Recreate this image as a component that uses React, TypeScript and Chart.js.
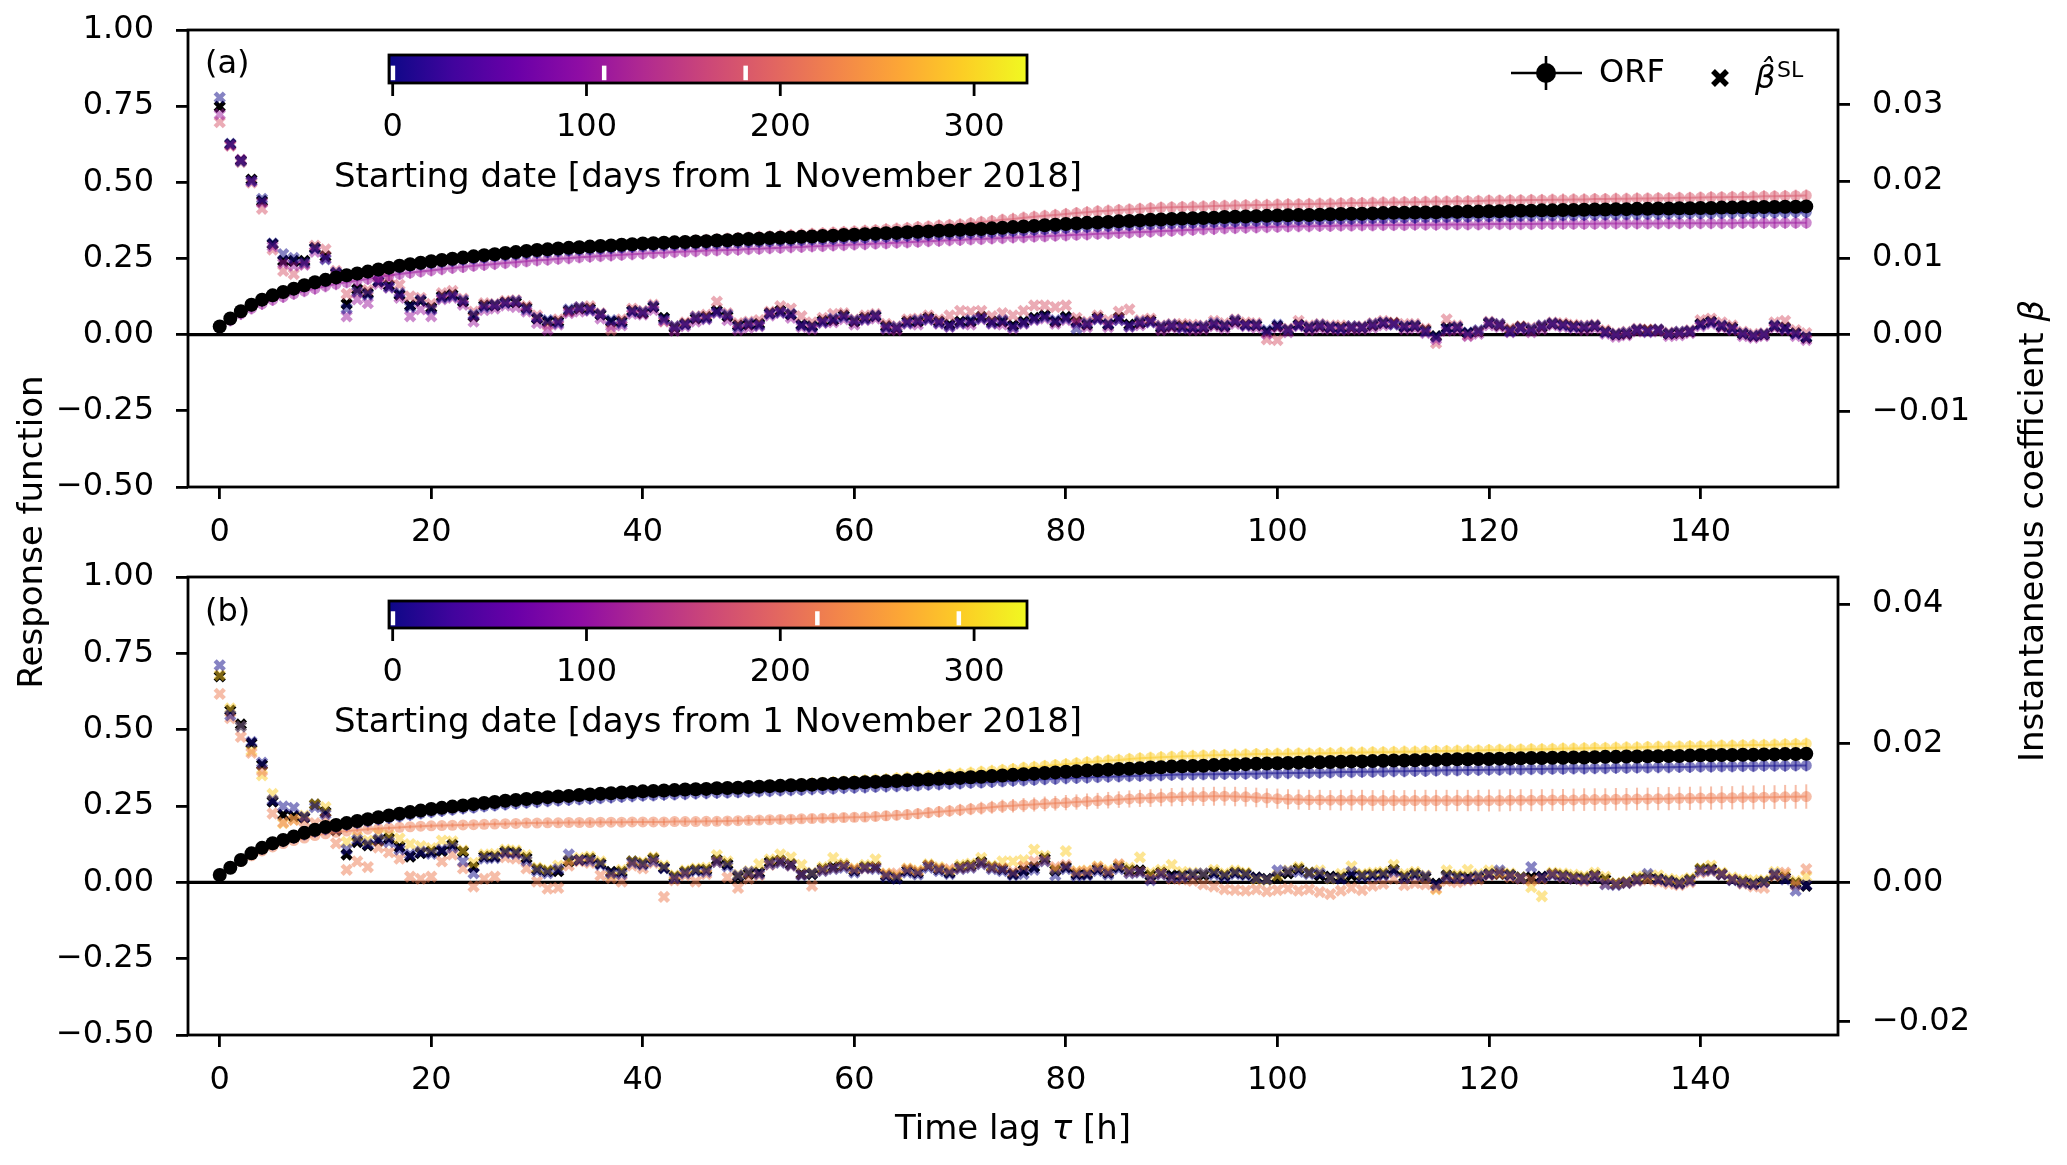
import { useEffect, useRef } from "react"
import { Chart, registerables } from "chart.js"

Chart.register(...registerables)

const W = 2067
const H = 1165
const FONT = "'DejaVu Sans'"
const FS = 32
const FL = 34

// time lag [h]
const lags = [...Array(151).keys()]

// ---------- panel (a): ORF (response function, left axis) ----------
const orfA = [
  .027, .053, .077, .098, .115, .129, .140, .151, .162, .172,
  .180, .188, .195, .201, .207, .214, .220, .226, .231, .236,
  .241, .245, .249, .253, .257, .261, .264, .268, .271, .275,
  .278, .280, .283, .285, .287, .289, .291, .293, .295, .297,
  .299, .300, .302, .303, .304, .306, .307, .309, .310, .312,
  .314, .315, .317, .318, .319, .321, .322, .324, .325, .327,
  .328, .330, .331, .333, .334, .336, .338, .339, .341, .342,
  .344, .346, .347, .349, .351, .353, .355, .357, .359, .361,
  .363, .365, .367, .368, .370, .372, .373, .375, .377, .378,
  .380, .381, .382, .383, .384, .386, .387, .388, .389, .390,
  .391, .392, .393, .393, .394, .395, .396, .397, .397, .398,
  .399, .400, .400, .401, .401, .402, .403, .403, .404, .404,
  .405, .405, .406, .407, .407, .408, .408, .409, .409, .410,
  .411, .411, .412, .412, .413, .413, .414, .414, .415, .415,
  .416, .416, .417, .417, .418, .418, .419, .419, .420, .420,
  .421,
]
const orfA_d0 = [
  .026, .051, .074, .095, .112, .126, .137, .148, .158, .168,
  .176, .184, .191, .197, .203, .209, .215, .220, .225, .230,
  .234, .238, .242, .246, .250, .253, .257, .260, .263, .266,
  .269, .271, .274, .276, .278, .280, .282, .284, .286, .288,
  .290, .291, .293, .294, .295, .297, .298, .299, .301, .302,
  .304, .305, .306, .308, .309, .310, .312, .313, .314, .316,
  .317, .318, .320, .321, .322, .324, .325, .327, .328, .330,
  .331, .333, .335, .336, .338, .340, .342, .344, .346, .348,
  .350, .351, .353, .355, .356, .358, .359, .361, .362, .364,
  .365, .366, .367, .368, .369, .370, .371, .372, .373, .374,
  .375, .376, .377, .377, .378, .379, .380, .380, .381, .382,
  .382, .383, .384, .384, .385, .385, .386, .387, .387, .388,
  .388, .389, .389, .390, .390, .391, .391, .392, .392, .393,
  .393, .394, .394, .395, .395, .396, .396, .397, .397, .398,
  .398, .398, .399, .399, .400, .400, .401, .401, .401, .402,
  .402,
]
const orfA_d109 = [
  .025, .047, .068, .086, .101, .114, .124, .134, .143, .151,
  .159, .166, .172, .178, .183, .189, .194, .199, .203, .207,
  .211, .215, .219, .222, .226, .229, .232, .235, .238, .241,
  .244, .246, .249, .251, .254, .256, .258, .260, .262, .264,
  .266, .268, .269, .271, .273, .274, .276, .277, .278, .279,
  .281, .282, .284, .285, .287, .288, .290, .291, .293, .294,
  .296, .297, .299, .300, .302, .303, .305, .307, .308, .310,
  .311, .313, .314, .316, .317, .319, .320, .322, .323, .325,
  .326, .328, .329, .331, .332, .334, .335, .337, .338, .340,
  .341, .343, .344, .346, .347, .349, .350, .351, .352, .353,
  .354, .355, .356, .356, .357, .357, .358, .358, .359, .359,
  .360, .360, .360, .361, .361, .361, .362, .362, .362, .362,
  .363, .363, .363, .363, .363, .364, .364, .364, .364, .364,
  .364, .365, .365, .365, .365, .365, .365, .366, .366, .366,
  .366, .366, .366, .366, .367, .367, .367, .367, .367, .367,
  .367,
]
const orfA_d182 = [
  .027, .052, .076, .097, .114, .128, .139, .150, .160, .170,
  .178, .186, .193, .199, .205, .211, .217, .223, .228, .233,
  .238, .242, .246, .250, .254, .258, .261, .265, .268, .272,
  .276, .279, .281, .284, .286, .288, .290, .292, .295, .297,
  .299, .301, .303, .305, .307, .309, .311, .313, .315, .317,
  .319, .321, .323, .325, .327, .329, .331, .333, .335, .337,
  .339, .341, .343, .346, .348, .350, .353, .355, .358, .360,
  .362, .366, .370, .373, .377, .380, .384, .387, .390, .393,
  .396, .399, .402, .405, .407, .409, .411, .413, .415, .417,
  .418, .419, .420, .421, .422, .423, .424, .425, .426, .426,
  .427, .428, .428, .429, .430, .430, .431, .432, .432, .433,
  .434, .434, .435, .435, .436, .437, .437, .438, .438, .439,
  .440, .440, .441, .441, .442, .442, .443, .443, .444, .444,
  .445, .445, .446, .446, .447, .447, .448, .448, .449, .449,
  .450, .451, .451, .452, .452, .453, .454, .454, .455, .456,
  .457,
]

// ---------- panel (a): beta SL (instantaneous coefficient, right axis) ----------
const betaA = [
  .0297, .0248, .0227, .0202, .0174, .0118, .0096, .0096, .0096, .0113,
  .0102, .0080, .0040, .0059, .0054, .0069, .0064, .0052, .0038, .0044,
  .0035, .0050, .0052, .0043, .0024, .0038, .0038, .0042, .0042, .0035,
  .0021, .0017, .0017, .0031, .0034, .0034, .0026, .0017, .0017, .0031,
  .0028, .0036, .0022, .0009, .0014, .0021, .0023, .0031, .0024, .0012,
  .0013, .0014, .0028, .0031, .0026, .0013, .0011, .0018, .0019, .0025,
  .0017, .0022, .0024, .0011, .0008, .0017, .0017, .0022, .0017, .0013,
  .0017, .0017, .0023, .0017, .0017, .0012, .0017, .0022, .0025, .0017,
  .0023, .0017, .0013, .0022, .0013, .0022, .0013, .0015, .0018, .0009,
  .0011, .0011, .0009, .0009, .0013, .0011, .0017, .0013, .0012, .0004,
  .0011, .0006, .0013, .0009, .0011, .0009, .0009, .0009, .0009, .0012,
  .0015, .0015, .0010, .0011, .0006, -.0002, .0009, .0009, .0002, .0004,
  .0015, .0012, .0006, .0010, .0006, .0010, .0014, .0013, .0011, .0009,
  .0011, .0004, .0000, .0001, .0006, .0006, .0006, .0001, .0002, .0004,
  .0014, .0017, .0011, .0009, .0001, -.0002, .0000, .0011, .0009, .0002,
  -.0004,
]
const betaA_d0 = [
  .0309, .0249, .0226, .0200, .0177, .0119, .0105, .0100, .0094, .0112,
  .0098, .0081, .0034, .0056, .0052, .0070, .0062, .0054, .0036, .0045,
  .0033, .0048, .0050, .0045, .0026, .0036, .0039, .0041, .0044, .0033,
  .0022, .0019, .0015, .0033, .0036, .0032, .0027, .0019, .0015, .0030,
  .0030, .0037, .0020, .0011, .0013, .0023, .0021, .0029, .0026, .0010,
  .0015, .0012, .0027, .0029, .0027, .0012, .0010, .0016, .0021, .0023,
  .0019, .0020, .0025, .0009, .0010, .0015, .0019, .0020, .0015, .0011,
  .0015, .0019, .0021, .0015, .0019, .0010, .0015, .0020, .0023, .0019,
  .0021, .0008, .0015, .0020, .0014, .0019, .0011, .0017, .0016, .0011,
  .0013, .0009, .0010, .0011, .0015, .0012, .0019, .0012, .0013, .0006,
  .0013, .0007, .0012, .0010, .0013, .0010, .0008, .0011, .0010, .0014,
  .0016, .0013, .0011, .0012, .0004, -.0003, .0008, .0010, .0003, .0006,
  .0016, .0014, .0004, .0009, .0008, .0012, .0015, .0012, .0010, .0011,
  .0012, .0003, .0001, .0003, .0007, .0004, .0007, .0002, .0004, .0005,
  .0013, .0016, .0012, .0008, .0002, -.0001, .0001, .0012, .0008, .0001,
  -.0003,
]
const betaA_d109 = [
  .0287, .0247, .0228, .0200, .0172, .0115, .0093, .0090, .0091, .0108,
  .0099, .0078, .0024, .0046, .0041, .0066, .0061, .0048, .0024, .0033,
  .0024, .0046, .0048, .0039, .0017, .0032, .0034, .0038, .0036, .0030,
  .0015, .0006, .0013, .0028, .0030, .0031, .0021, .0011, .0012, .0027,
  .0026, .0032, .0018, .0005, .0011, .0017, .0020, .0028, .0019, .0006,
  .0009, .0011, .0025, .0028, .0022, .0010, .0007, .0015, .0016, .0020,
  .0013, .0019, .0021, .0007, .0006, .0014, .0013, .0019, .0014, .0010,
  .0014, .0013, .0020, .0014, .0013, .0008, .0014, .0019, .0021, .0014,
  .0019, .0014, .0010, .0020, .0010, .0019, .0010, .0012, .0016, .0006,
  .0009, .0008, .0006, .0007, .0011, .0008, .0014, .0011, .0009, .0001,
  .0009, .0003, .0011, .0006, .0008, .0007, .0006, .0007, .0007, .0009,
  .0012, .0013, .0007, .0008, .0002, -.0006, .0005, .0006, -.0002, .0001,
  .0012, .0010, .0003, .0007, .0003, .0007, .0012, .0010, .0008, .0006,
  .0008, .0001, -.0003, -.0001, .0004, .0003, .0004, -.0002, -.0001, .0002,
  .0011, .0014, .0009, .0006, -.0002, -.0004, -.0002, .0009, .0006, -.0002,
  -.0007,
]
const betaA_d182 = [
  .0277, .0246, .0225, .0198, .0164, .0111, .0083, .0079, .0092, .0116,
  .0111, .0083, .0053, .0055, .0058, .0075, .0074, .0065, .0050, .0048,
  .0040, .0054, .0057, .0047, .0030, .0041, .0040, .0044, .0045, .0037,
  .0025, .0012, .0020, .0030, .0036, .0037, .0028, .0006, .0020, .0034,
  .0031, .0039, .0017, .0011, .0016, .0024, .0026, .0043, .0028, .0015,
  .0017, .0019, .0030, .0037, .0034, .0024, .0016, .0022, .0027, .0028,
  .0020, .0025, .0027, .0014, .0011, .0020, .0021, .0025, .0020, .0025,
  .0031, .0030, .0031, .0024, .0028, .0025, .0031, .0038, .0038, .0036,
  .0038, .0022, .0017, .0025, .0019, .0030, .0033, .0019, .0021, .0012,
  .0014, .0014, .0013, .0012, .0018, .0015, .0020, .0016, .0015, -.0006,
  -.0007, .0008, .0018, .0012, .0014, .0012, .0012, .0011, .0011, .0015,
  .0018, .0016, .0014, .0014, .0008, -.0011, .0020, .0012, -.0001, .0005,
  .0017, .0014, .0008, .0011, .0009, .0012, .0016, .0015, .0013, .0012,
  .0013, .0006, .0002, .0004, .0008, .0007, .0007, .0003, .0004, .0006,
  .0019, .0021, .0016, .0012, .0004, .0001, .0002, .0016, .0018, .0006,
  .0002,
]

// ---------- panel (b): ORF ----------
const orfB = [
  .024, .048, .073, .095, .113, .128, .139, .150, .162, .172,
  .181, .188, .194, .201, .207, .213, .219, .225, .230, .235,
  .240, .244, .248, .252, .256, .260, .263, .267, .270, .273,
  .276, .279, .281, .283, .286, .288, .290, .292, .294, .296,
  .298, .299, .301, .302, .304, .305, .306, .308, .309, .310,
  .312, .313, .315, .316, .318, .319, .320, .322, .323, .325,
  .326, .328, .329, .331, .332, .334, .336, .337, .339, .341,
  .342, .344, .346, .348, .350, .352, .354, .356, .358, .360,
  .362, .364, .366, .367, .369, .371, .372, .374, .376, .377,
  .379, .380, .381, .382, .384, .385, .386, .387, .388, .389,
  .390, .391, .392, .393, .393, .394, .395, .396, .396, .397,
  .398, .399, .399, .400, .401, .401, .402, .403, .403, .404,
  .404, .405, .405, .406, .407, .407, .408, .408, .409, .409,
  .410, .411, .411, .412, .412, .413, .413, .414, .414, .415,
  .416, .416, .417, .417, .418, .418, .419, .419, .420, .420,
  .421,
]
const orfB_d0 = [
  .025, .049, .072, .093, .110, .124, .135, .146, .157, .166,
  .174, .182, .188, .194, .200, .206, .211, .216, .221, .226,
  .230, .234, .238, .242, .245, .249, .252, .255, .258, .261,
  .263, .266, .268, .270, .272, .274, .276, .278, .280, .282,
  .284, .285, .287, .288, .289, .291, .292, .293, .294, .295,
  .297, .298, .299, .301, .302, .303, .305, .306, .307, .309,
  .310, .311, .313, .314, .315, .317, .318, .320, .321, .323,
  .324, .326, .327, .329, .331, .333, .334, .336, .338, .339,
  .341, .342, .343, .345, .346, .347, .348, .349, .350, .351,
  .352, .353, .353, .354, .354, .355, .355, .356, .356, .357,
  .357, .358, .358, .359, .359, .360, .361, .361, .362, .362,
  .363, .364, .364, .365, .365, .366, .367, .367, .368, .368,
  .369, .369, .370, .370, .371, .371, .372, .372, .373, .373,
  .374, .374, .375, .375, .376, .376, .377, .377, .378, .378,
  .379, .379, .380, .380, .381, .381, .382, .382, .382, .383,
  .383,
]
const orfB_d219 = [
  .025, .045, .068, .087, .103, .116, .127, .137, .145, .153,
  .159, .164, .168, .171, .174, .176, .178, .180, .182, .184,
  .185, .186, .187, .188, .189, .190, .191, .192, .193, .194,
  .194, .195, .195, .196, .196, .196, .197, .197, .197, .198,
  .198, .198, .198, .199, .199, .199, .200, .200, .201, .202,
  .203, .204, .205, .206, .207, .208, .209, .210, .211, .212,
  .213, .214, .216, .218, .220, .222, .225, .228, .231, .234,
  .237, .240, .243, .246, .249, .251, .253, .255, .257, .259,
  .261, .263, .265, .267, .269, .271, .273, .275, .276, .278,
  .279, .280, .281, .281, .282, .282, .281, .280, .278, .276,
  .274, .272, .271, .270, .270, .269, .269, .269, .269, .268,
  .268, .268, .268, .268, .268, .268, .268, .268, .268, .268,
  .268, .268, .269, .269, .269, .269, .270, .270, .270, .271,
  .271, .271, .272, .272, .273, .273, .274, .274, .275, .275,
  .276, .276, .277, .277, .278, .278, .279, .279, .280, .280,
  .281,
]
const errB_d219 = [
  .004, .004, .004, .004, .004, .005, .005, .005, .005, .005,
  .005, .005, .006, .006, .006, .006, .006, .006, .006, .007,
  .007, .007, .007, .007, .007, .007, .008, .008, .008, .008,
  .008, .008, .008, .009, .009, .009, .009, .009, .010, .010,
  .010, .010, .011, .011, .011, .011, .011, .012, .012, .012,
  .012, .012, .012, .013, .013, .013, .014, .014, .014, .015,
  .015, .015, .016, .016, .017, .017, .018, .018, .019, .019,
  .020, .020, .021, .021, .022, .022, .023, .023, .024, .024,
  .025, .025, .026, .026, .027, .027, .028, .028, .029, .029,
  .030, .030, .030, .031, .031, .031, .032, .032, .032, .032,
  .033, .033, .033, .033, .033, .033, .034, .034, .034, .034,
  .034, .034, .034, .035, .035, .035, .035, .035, .035, .035,
  .036, .036, .036, .036, .036, .036, .036, .036, .037, .037,
  .037, .037, .037, .037, .037, .037, .038, .038, .038, .038,
  .038, .038, .038, .038, .039, .039, .039, .039, .039, .039,
  .040,
]
const orfB_d292 = [
  .024, .048, .072, .094, .112, .126, .138, .149, .160, .170,
  .179, .186, .193, .200, .206, .212, .218, .224, .229, .234,
  .239, .243, .247, .251, .255, .259, .262, .266, .269, .272,
  .275, .278, .280, .282, .285, .287, .289, .291, .293, .295,
  .297, .298, .300, .302, .303, .305, .307, .308, .310, .312,
  .313, .315, .317, .319, .320, .322, .324, .326, .328, .330,
  .332, .334, .336, .338, .341, .343, .345, .348, .350, .353,
  .356, .359, .362, .365, .368, .371, .375, .378, .381, .384,
  .387, .390, .393, .396, .399, .401, .404, .406, .408, .410,
  .411, .413, .414, .415, .416, .417, .418, .419, .420, .420,
  .421, .421, .422, .422, .423, .423, .424, .425, .425, .426,
  .426, .427, .428, .428, .429, .430, .430, .431, .432, .432,
  .433, .434, .434, .435, .436, .436, .437, .438, .438, .439,
  .440, .440, .441, .442, .442, .443, .444, .444, .445, .446,
  .446, .447, .448, .448, .449, .450, .450, .451, .452, .453,
  .454,
]

// ---------- panel (b): beta SL ----------
const betaB = [
  .0296, .0247, .0227, .0200, .0169, .0116, .0097, .0095, .0093, .0112,
  .0101, .0075, .0040, .0058, .0053, .0060, .0063, .0051, .0037, .0042,
  .0044, .0045, .0054, .0044, .0022, .0037, .0037, .0044, .0043, .0035,
  .0019, .0016, .0016, .0030, .0032, .0034, .0027, .0015, .0015, .0030,
  .0027, .0034, .0021, .0008, .0015, .0018, .0018, .0032, .0026, .0008,
  .0012, .0014, .0029, .0031, .0026, .0012, .0012, .0019, .0022, .0024,
  .0017, .0022, .0022, .0010, .0007, .0017, .0014, .0024, .0019, .0014,
  .0022, .0024, .0029, .0022, .0019, .0012, .0017, .0022, .0034, .0017,
  .0022, .0012, .0012, .0019, .0014, .0022, .0017, .0017, .0010, .0014,
  .0010, .0010, .0010, .0010, .0014, .0010, .0014, .0012, .0007, .0005,
  .0007, .0013, .0019, .0014, .0010, .0008, .0007, .0010, .0010, .0011,
  .0012, .0018, .0008, .0012, .0007, -.0002, .0010, .0008, .0007, .0007,
  .0012, .0012, .0011, .0007, .0007, .0008, .0012, .0010, .0007, .0006,
  .0010, .0004, -.0002, .0000, .0005, .0006, .0005, .0002, -.0001, .0004,
  .0019, .0019, .0012, .0004, .0001, -.0002, .0001, .0010, .0007, -.0001,
  -.0005,
]
const betaB_d0 = [
  .0312, .0240, .0224, .0202, .0172, .0118, .0109, .0107, .0094, .0108,
  .0098, .0077, .0047, .0061, .0055, .0062, .0058, .0047, .0040, .0044,
  .0041, .0047, .0050, .0030, .0013, .0034, .0035, .0042, .0041, .0031,
  .0016, .0013, .0019, .0040, .0032, .0031, .0025, .0013, .0012, .0028,
  .0025, .0030, .0020, .0006, .0013, .0016, .0015, .0029, .0023, .0010,
  .0015, .0012, .0026, .0028, .0024, .0010, .0013, .0016, .0019, .0021,
  .0014, .0020, .0019, .0008, .0005, .0014, .0011, .0021, .0016, .0012,
  .0019, .0021, .0026, .0019, .0016, .0010, .0012, .0018, .0030, .0010,
  .0019, .0009, .0010, .0016, .0011, .0019, .0013, .0014, .0003, .0011,
  .0007, .0008, .0012, .0013, .0011, .0008, .0012, .0010, .0006, .0004,
  .0017, .0016, .0015, .0012, .0013, .0006, .0005, .0015, .0008, .0009,
  .0010, .0015, .0006, .0010, .0009, -.0004, .0008, .0006, .0005, .0009,
  .0011, .0017, .0010, .0006, .0022, .0007, .0010, .0008, .0005, .0004,
  .0008, -.0003, -.0004, -.0001, .0003, .0012, .0004, .0001, -.0002, .0002,
  .0016, .0017, .0011, .0003, -.0001, -.0003, .0000, .0012, .0004, -.0012,
  -.0004,
]
const betaB_d219 = [
  .0271, .0236, .0209, .0186, .0160, .0099, .0086, .0090, .0087, .0085,
  .0092, .0056, .0018, .0030, .0022, .0050, .0043, .0034, .0008, .0005,
  .0008, .0030, .0040, .0020, -.0006, .0005, .0008, .0036, .0034, .0020,
  .0001, -.0009, -.0008, .0024, .0030, .0028, .0010, .0006, .0001, .0024,
  .0020, .0028, -.0021, .0003, .0010, .0001, .0012, .0029, .0007, -.0008,
  .0005, .0010, .0025, .0029, .0024, .0011, -.0005, .0017, .0020, .0023,
  .0019, .0020, .0021, .0012, .0013, .0019, .0016, .0024, .0020, .0019,
  .0020, .0022, .0027, .0021, .0020, .0015, .0023, .0030, .0031, .0022,
  .0025, .0015, .0016, .0022, .0016, .0026, .0014, .0015, .0005, .0012,
  .0005, .0004, .0002, -.0003, -.0006, -.0010, -.0011, -.0012, -.0010, -.0013,
  -.0011, -.0009, -.0012, -.0010, -.0014, -.0017, -.0012, -.0008, -.0011, -.0005,
  -.0002, .0005, -.0004, -.0001, -.0003, -.0009, .0002, .0000, .0003, .0004,
  .0010, .0012, .0007, .0005, .0003, .0005, .0011, .0007, .0005, .0002,
  .0008, -.0002, -.0003, -.0001, .0002, .0004, .0001, -.0002, -.0004, .0000,
  .0014, .0016, .0011, .0004, -.0002, -.0006, -.0008, .0009, .0014, -.0004,
  .0019,
]
const betaB_d292 = [
  .0298, .0250, .0224, .0189, .0154, .0127, .0085, .0090, .0096, .0112,
  .0108, .0079, .0058, .0065, .0060, .0070, .0068, .0063, .0055, .0052,
  .0049, .0060, .0059, .0046, .0028, .0040, .0041, .0047, .0046, .0039,
  .0021, .0018, .0024, .0032, .0035, .0037, .0030, .0010, .0018, .0030,
  .0029, .0036, .0024, .0010, .0017, .0020, .0021, .0039, .0030, .0011,
  .0016, .0026, .0033, .0040, .0036, .0025, .0014, .0022, .0035, .0027,
  .0020, .0025, .0033, .0013, .0010, .0020, .0017, .0026, .0022, .0017,
  .0025, .0027, .0035, .0024, .0030, .0030, .0032, .0047, .0038, .0019,
  .0045, .0016, .0017, .0023, .0018, .0025, .0021, .0036, .0014, .0018,
  .0025, .0015, .0014, .0013, .0018, .0013, .0017, .0014, .0004, .0003,
  .0010, .0017, .0022, .0014, .0017, .0005, .0012, .0023, .0012, .0014,
  .0015, .0025, .0012, .0015, .0010, -.0010, .0017, .0011, .0018, .0012,
  .0017, .0015, .0013, .0007, -.0007, -.0020, .0014, .0013, .0011, .0009,
  .0014, .0008, -.0001, .0001, .0008, .0010, .0010, .0005, .0003, .0006,
  .0020, .0024, .0014, .0007, .0004, .0003, .0003, .0015, .0011, .0002,
  .0008,
]

// rough error half-widths of the ORF estimates
const errBlack = 0.006
const errColoured = 0.02

// starting dates [days from 1 November 2018] and their plasma colours
const datesA = [0, 109, 182]
const datesB = [0, 219, 292]
const coloursA = ["#0e0888", "#9c189d", "#d8586b"]
const coloursB = ["#0e0888", "#ed7b52", "#fccb26"]

const PLASMA = ["#0d0887", "#41049d", "#6a00a8", "#8f0da4", "#b12a90", "#cc4778",
  "#e16462", "#f2844b", "#fca636", "#fcce25", "#f0f921"]
const CBAR_MIN = -1.9
const CBAR_MAX = 327.3
const cbarTicks = [0, 100, 200, 300]

const rgba = (hex: string, a: number) => {
  const n = parseInt(hex.slice(1), 16)
  return `rgba(${(n >> 16) & 255},${(n >> 8) & 255},${n & 255},${a})`
}

const fmt2 = (v: any) => {
  const n = Number(v)
  if (Math.abs(n) < 1e-9) return "0.00"
  return n.toFixed(2).replace("-", "\u2212")
}

const pts = (ys: number[]) => ys.map((y, i) => ({ x: lags[i], y }))

// draws vertical error bars under each ORF dataset
const errorBars = {
  id: "errorBars",
  beforeDatasetDraw(chart: any, args: any) {
    const ds = chart.data.datasets[args.index]
    if (ds.errors === undefined) return
    const ys = chart.scales[args.meta.yAxisID]
    const ctx = chart.ctx
    ctx.save()
    ctx.strokeStyle = ds.errorColor
    ctx.lineWidth = 2
    args.meta.data.forEach((p: any, i: number) => {
      const v = ds.data[i].y
      const e = Array.isArray(ds.errors) ? ds.errors[i] : ds.errors
      ctx.beginPath()
      ctx.moveTo(p.x, ys.getPixelForValue(v - e))
      ctx.lineTo(p.x, ys.getPixelForValue(v + e))
      ctx.stroke()
    })
    ctx.restore()
  },
}

// zero line + frame
const frame = {
  id: "frame",
  beforeDatasetsDraw(chart: any) {
    const { ctx, chartArea: a } = chart
    const y0 = chart.scales.y.getPixelForValue(0)
    ctx.save()
    ctx.strokeStyle = "#000"
    ctx.lineWidth = 3.4
    ctx.beginPath()
    ctx.moveTo(a.left, y0)
    ctx.lineTo(a.right, y0)
    ctx.stroke()
    ctx.restore()
  },
  afterDraw(chart: any) {
    const { ctx, chartArea: a } = chart
    ctx.save()
    ctx.strokeStyle = "#000"
    ctx.lineWidth = 2.8
    ctx.strokeRect(a.left, a.top, a.right - a.left, a.bottom - a.top)
    ctx.restore()
  },
}

function drawColorbar(ctx: any, marks: number[], x0: number, x1: number, y0: number, y1: number) {
  const g = ctx.createLinearGradient(x0, 0, x1, 0)
  PLASMA.forEach((c, i) => g.addColorStop(i / (PLASMA.length - 1), c))
  ctx.fillStyle = g
  ctx.fillRect(x0, y0, x1 - x0, y1 - y0)
  const px = (v: number) => x0 + ((v - CBAR_MIN) / (CBAR_MAX - CBAR_MIN)) * (x1 - x0)
  ctx.fillStyle = "#fff"
  marks.forEach((m) => ctx.fillRect(px(m) - 2, y0 + (y1 - y0) * 0.38, 4.5, (y1 - y0) * 0.52))
  ctx.strokeStyle = "#000"
  ctx.lineWidth = 2.8
  ctx.strokeRect(x0, y0, x1 - x0, y1 - y0)
  ctx.fillStyle = "#000"
  ctx.font = `${FS}px ${FONT}`
  ctx.textAlign = "center"
  ctx.textBaseline = "middle"
  cbarTicks.forEach((t) => {
    ctx.beginPath()
    ctx.moveTo(px(t), y1)
    ctx.lineTo(px(t), y1 + 13)
    ctx.stroke()
    ctx.fillText(String(t), px(t), y1 + 45)
  })
  ctx.font = `${FL}px ${FONT}`
  ctx.fillText("Starting date [days from 1 November 2018]", (x0 + x1) / 2, y1 + 95)
}

// draws text runs of mixed style centred on (0,0) of the current transform
function drawRuns(ctx: any, runs: [string, string][], y: number) {
  const widths = runs.map(([t, f]) => {
    ctx.font = f
    return ctx.measureText(t).width
  })
  let x = -widths.reduce((s, w) => s + w, 0) / 2
  ctx.textAlign = "left"
  runs.forEach(([t, f], i) => {
    ctx.font = f
    ctx.fillText(t, x, y)
    x += widths[i]
  })
}

const decoA = {
  id: "decoA",
  afterDraw(chart: any) {
    const ctx = chart.ctx
    ctx.save()
    ctx.fillStyle = "#000"
    ctx.font = `${FS}px ${FONT}`
    ctx.textBaseline = "middle"
    ctx.textAlign = "left"
    ctx.fillText("(a)", 205, 65)
    drawColorbar(ctx, datesA, 389, 1027, 55, 83)

    // legend
    ctx.strokeStyle = "#000"
    ctx.fillStyle = "#000"
    ctx.lineWidth = 2.6
    ctx.beginPath()
    ctx.moveTo(1511, 73)
    ctx.lineTo(1582, 73)
    ctx.moveTo(1546, 56)
    ctx.lineTo(1546, 90)
    ctx.stroke()
    ctx.beginPath()
    ctx.arc(1546, 73, 10, 0, Math.PI * 2)
    ctx.fill()
    ctx.font = `${FS}px ${FONT}`
    ctx.textBaseline = "middle"
    ctx.textAlign = "left"
    ctx.fillText("ORF", 1599, 74)
    ctx.lineWidth = 5.5
    ctx.beginPath()
    ctx.moveTo(1713, 71)
    ctx.lineTo(1727, 85)
    ctx.moveTo(1727, 71)
    ctx.lineTo(1713, 85)
    ctx.stroke()
    ctx.textBaseline = "alphabetic"
    ctx.font = `italic ${FS}px ${FONT}`
    ctx.fillText("\u03b2\u0302", 1755, 88)
    ctx.font = `22px ${FONT}`
    ctx.fillText("SL", 1777, 77)
    ctx.restore()
  },
}

const decoB = {
  id: "decoB",
  afterDraw(chart: any) {
    const ctx = chart.ctx
    ctx.save()
    ctx.fillStyle = "#000"
    ctx.font = `${FS}px ${FONT}`
    ctx.textBaseline = "middle"
    ctx.textAlign = "left"
    ctx.fillText("(b)", 205, 613)
    drawColorbar(ctx, datesB, 389, 1027, 601, 628)

    const normal = `${FL}px ${FONT}`
    const italic = `italic ${FL}px ${FONT}`
    // x label
    ctx.save()
    ctx.translate(1013, 1130)
    drawRuns(ctx, [["Time lag ", normal], ["\u03c4", italic], [" [h]", normal]], 0)
    ctx.restore()
    // left label (shared)
    ctx.save()
    ctx.translate(33, 532)
    ctx.rotate(-Math.PI / 2)
    drawRuns(ctx, [["Response function", normal]], 0)
    ctx.restore()
    // right label (shared)
    ctx.save()
    ctx.translate(2034, 531)
    ctx.rotate(-Math.PI / 2)
    drawRuns(ctx, [["Instantaneous coefficient ", normal], ["\u03b2", italic]], 0)
    ctx.restore()
    ctx.restore()
  },
}

type PanelSpec = {
  top: number
  bottom: number
  orf: number[]
  orfColoured: number[][]
  orfErrors: (number | number[])[]
  beta: number[]
  betaColoured: number[][]
  colours: string[]
  rMin: number
  rMax: number
  rStep: number
  deco: any
}

const LEFT = 188
const RIGHT = 1838

function makeConfig(p: PanelSpec): any {
  const tickGrid = {
    drawOnChartArea: false,
    drawTicks: true,
    tickLength: 12,
    tickWidth: 2.8,
    lineWidth: 2.8,
    tickColor: "#000",
    color: "#000",
  }
  const noPad = (s: any) => {
    s.paddingTop = 0
    s.paddingBottom = 0
  }
  const datasets: any[] = []
  datasets.push({
    data: pts(p.orf),
    yAxisID: "y",
    borderColor: "#000",
    borderWidth: 2,
    pointRadius: 7,
    pointBorderWidth: 0,
    pointBackgroundColor: "#000",
    errors: errBlack,
    errorColor: "#000",
    order: 0,
  })
  p.orfColoured.forEach((ys, i) => {
    datasets.push({
      data: pts(ys),
      yAxisID: "y",
      borderColor: rgba(p.colours[i], 0.5),
      borderWidth: 2,
      pointRadius: 5.5,
      pointBorderWidth: 0,
      pointBackgroundColor: rgba(p.colours[i], 0.5),
      errors: p.orfErrors[i],
      errorColor: rgba(p.colours[i], 0.5),
      order: 1 + i,
    })
  })
  p.betaColoured.forEach((ys, i) => {
    datasets.push({
      data: pts(ys),
      yAxisID: "y1",
      showLine: false,
      pointStyle: "crossRot",
      pointRadius: 6.5,
      pointBorderWidth: 4.4,
      pointBorderColor: rgba(p.colours[i], 0.5),
      order: 10 + i,
    })
  })
  datasets.push({
    data: pts(p.beta),
    yAxisID: "y1",
    showLine: false,
    pointStyle: "crossRot",
    pointRadius: 6.5,
    pointBorderWidth: 4.4,
    pointBorderColor: "#000",
    order: 20,
  })

  return {
    type: "line",
    data: { datasets },
    options: {
      animation: false,
      responsive: false,
      events: [],
      layout: { padding: { top: p.top, left: 0, right: 0, bottom: 0 } },
      plugins: { legend: { display: false }, tooltip: { enabled: false } },
      scales: {
        x: {
          type: "linear",
          min: -3,
          max: 153,
          grid: tickGrid,
          border: { display: false },
          ticks: {
            stepSize: 20,
            includeBounds: false,
            autoSkip: false,
            maxRotation: 0,
            padding: 14,
            callback: (v: any) => String(v),
          },
          afterFit: (s: any) => {
            s.height = H - p.bottom
          },
        },
        y: {
          position: "left",
          min: -0.5,
          max: 1,
          grid: tickGrid,
          border: { display: false },
          ticks: { stepSize: 0.25, padding: 22, callback: fmt2 },
          afterFit: (s: any) => {
            s.width = LEFT
            noPad(s)
          },
        },
        y1: {
          position: "right",
          min: p.rMin,
          max: p.rMax,
          grid: tickGrid,
          border: { display: false },
          ticks: { stepSize: p.rStep, includeBounds: false, padding: 22, callback: fmt2 },
          afterFit: (s: any) => {
            s.width = W - RIGHT
            noPad(s)
          },
        },
      },
    },
    plugins: [errorBars, frame, p.deco],
  }
}

const panelA: PanelSpec = {
  top: 30,
  bottom: 487,
  orf: orfA,
  orfColoured: [orfA_d0, orfA_d109, orfA_d182],
  orfErrors: [errColoured, errColoured, errColoured],
  beta: betaA,
  betaColoured: [betaA_d0, betaA_d109, betaA_d182],
  colours: coloursA,
  rMin: -0.01985,
  rMax: 0.0397,
  rStep: 0.01,
  deco: decoA,
}

const panelB: PanelSpec = {
  top: 577,
  bottom: 1035,
  orf: orfB,
  orfColoured: [orfB_d0, orfB_d219, orfB_d292],
  orfErrors: [errColoured, errB_d219, errColoured],
  beta: betaB,
  betaColoured: [betaB_d0, betaB_d219, betaB_d292],
  colours: coloursB,
  rMin: -0.02195,
  rMax: 0.0439,
  rStep: 0.02,
  deco: decoB,
}

Chart.defaults.font.family = FONT
Chart.defaults.font.size = FS
Chart.defaults.color = "#000"

export default function App() {
  const refA = useRef<HTMLCanvasElement>(null)
  const refB = useRef<HTMLCanvasElement>(null)

  useEffect(() => {
    if (!refA.current || !refB.current) return
    const a = new Chart(refA.current, makeConfig(panelA))
    const b = new Chart(refB.current, makeConfig(panelB))
    return () => {
      a.destroy()
      b.destroy()
    }
  }, [])

  const cs: any = { position: "absolute", left: 0, top: 0, width: W, height: H }
  return (
    <div style={{ position: "fixed", left: 0, top: 0, width: W, height: H, background: "#fff" }}>
      <canvas ref={refA} width={W} height={H} style={cs} />
      <canvas ref={refB} width={W} height={H} style={cs} />
    </div>
  )
}
